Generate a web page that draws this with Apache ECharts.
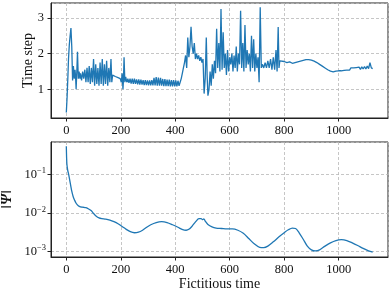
<!DOCTYPE html>
<html><head><meta charset="utf-8">
<script src="https://cdn.jsdelivr.net/npm/echarts@6/dist/echarts.min.js"></script>
<style>html,body{margin:0;padding:0;background:#fff}#c{width:390px;height:293px}</style>
</head><body><div id="c"></div>
<script>
// Top panel: time step vs fictitious time
const timeStep = [
[0,0.35],[3,0.8],[6,1.4],[8,1.85],[11,2.25],[14,2.5],[17,2.72],[20,2.2],[23,1.25],[26,1.65],[29,1.3],[32,1.55],[34,1.35],[36,1.0],[39,1.6],[41,2.05],[44,1.3],[47,1.5],[50,1.3],
[52,1.45],[56,1.25],[60,1.5],[64,1.3],[68,1.55],[72,1.2],[76,1.6],[80,1.2],[84,1.65],[88,1.15],[92,1.6],[96,1.2],[100,1.85],[104,1.1],[108,1.7],[112,1.15],[116,1.6],[120,1.1],[124,1.75],[128,1.15],[132,1.85],[136,1.1],[140,1.7],[144,1.15],[148,1.8],[152,1.1],[156,1.6],[160,1.2],[164,1.85],[167,1.2],[170,1.4],
[180,1.36],[190,1.33],[198,1.3],[202,1.2],[205,1.45],[208,1.0],[210,1.3],[212,1.9],[215,1.2],
[218,1.35],[222,1.2],[226,1.3],[230,1.18],[234,1.3],[238,1.16],[242,1.3],[246,1.15],[250,1.3],[254,1.15],[258,1.28],[262,1.14],[266,1.28],[270,1.13],[274,1.27],[278,1.13],[282,1.26],[286,1.12],[290,1.26],[294,1.12],[298,1.25],[302,1.11],[306,1.25],[310,1.11],[314,1.26],[318,1.11],[322,1.32],[326,1.11],[330,1.34],[334,1.1],[338,1.33],[342,1.1],[346,1.32],[350,1.1],[354,1.29],[358,1.09],[362,1.29],[366,1.09],[370,1.27],[374,1.09],[378,1.27],[382,1.08],[386,1.26],[390,1.08],[394,1.26],[398,1.08],[402,1.25],[406,1.08],[410,1.24],[414,1.1],[418,1.2],
[422,1.3],[426,1.45],[430,1.6],[434,1.75],[438,1.95],[442,1.6],[446,2.45],[450,1.9],[454,2.2],[458,2.75],[462,2.2],[466,2.0],[470,2.3],[474,1.85],[478,2.0],[482,1.85],[486,1.95],[490,1.8],[494,1.9],[498,1.75],[502,1.85],[506,0.88],[510,1.3],[514,2.45],[517,1.4],[520,0.82],[524,1.0],[528,1.5],[532,1.1],[536,1.7],[540,1.3],[544,1.8],[548,1.45],[552,2.7],[556,1.6],[560,2.3],[564,1.5],[568,3.25],[572,1.55],[576,2.6],[580,1.6],[584,2.0],[588,1.4],[592,2.1],[596,1.5],[600,1.9],[604,1.7],[608,2.0],[612,1.5],[616,1.95],[620,1.6],[624,2.2],[628,1.5],[632,2.0],[636,1.7],[640,3.2],[644,1.6],[648,2.3],[652,1.5],[656,2.8],[660,1.6],[664,2.1],[668,1.7],[672,2.0],[676,1.5],[680,2.5],[684,1.6],[688,2.4],[692,1.5],[696,2.0],[700,1.6],[704,1.9],[708,1.2],[712,3.3],[716,1.6],
[720,1.7],[725,1.6],[730,1.75],[735,1.6],[740,1.8],[745,1.6],[750,1.85],[755,1.55],[760,1.9],[765,1.55],[770,2.1],[774,1.5],[778,2.75],[781,1.6],[784,1.8],
[790,1.76],[800,1.78],[810,1.75],[820,1.77],[830,1.73],[840,1.75],[850,1.77],[860,1.79],[870,1.81],[880,1.83],[890,1.83],[900,1.82],[910,1.79],[920,1.75],[930,1.7],[940,1.65],[950,1.6],[960,1.55],[970,1.51],[980,1.49],[990,1.51],[995,1.54],[1000,1.52],
[1005,1.56],[1010,1.52],[1015,1.57],[1020,1.53],[1025,1.58],[1030,1.54],[1035,1.58],[1040,1.54],[1045,1.6],[1050,1.55],[1055,1.6],[1060,1.55],[1065,1.61],[1070,1.56],[1075,1.62],[1080,1.56],[1085,1.63],[1090,1.57],[1095,1.64],[1100,1.57],[1105,1.65],[1110,1.58],[1115,1.75],[1120,1.6],[1125,1.58]
];
// Bottom panel: residual norm (log scale)
const residualNorm = [
[0,0.54],[2,0.19],[5,0.13],[8,0.105],[12,0.075],[16,0.052],[20,0.037],[25,0.027],[30,0.022],[36,0.018],[44,0.0155],[52,0.0145],[62,0.0142],[72,0.0138],[82,0.0128],[92,0.0115],[100,0.0098],[110,0.0083],[120,0.0075],[130,0.0072],[145,0.007],[160,0.0066],[175,0.006],[190,0.0053],[205,0.0045],[220,0.0038],[235,0.0033],[250,0.0031],[265,0.0032],[280,0.0036],[295,0.0043],[310,0.005],[330,0.0057],[350,0.006],[370,0.0057],[390,0.005],[410,0.0043],[425,0.0038],[440,0.0036],[450,0.0038],[462,0.0046],[475,0.006],[487,0.0072],[495,0.0072],[500,0.0068],[505,0.0071],[510,0.0062],[520,0.0051],[535,0.0044],[550,0.0041],[570,0.004],[590,0.0039],[610,0.0039],[630,0.0036],[650,0.003],[670,0.0022],[690,0.0016],[710,0.0013],[725,0.00128],[740,0.0014],[760,0.0018],[780,0.0024],[800,0.0031],[815,0.0037],[830,0.0041],[842,0.004],[855,0.0031],[870,0.0021],[885,0.0014],[900,0.00112],[915,0.00105],[930,0.00112],[950,0.0014],[970,0.0017],[990,0.00195],[1010,0.00205],[1030,0.00195],[1050,0.0017],[1070,0.00145],[1090,0.00122],[1110,0.00105],[1125,0.00098]
];
const xName = 'Fictitious time';
const topYName = 'Time step';
const xRange = [-56.25, 1181.25];
const topYRange = [0.196, 3.42];
const logYRange = [7.3e-4, 0.695];

const FONT = 'Liberation Serif';
const LINE = '#1f77b4';
const gridLine = {show:true, lineStyle:{color:'#b8b8b8', type:[3,2], width:0.8}};
const axLine = {show:true, onZero:false, lineStyle:{color:'#222', width:1}};
const tick = {show:true, length:3.5, lineStyle:{color:'#222', width:1}};
const lbl = {fontFamily:FONT, fontSize:12.5, color:'#111'};

function xAxisCfg(g, withName){
  const a = {gridIndex:g, type:'value', min:xRange[0], max:xRange[1], splitNumber:6,
    axisLine:axLine, axisTick:tick, splitLine:gridLine,
    axisLabel:Object.assign({margin:6, showMinLabel:false, showMaxLabel:false,
      formatter:function(v){ return String(Math.round(v)); }}, lbl)};
  if (withName){ a.name = xName; a.nameLocation='middle'; a.nameGap=20;
    a.nameTextStyle={fontFamily:FONT, fontSize:14, color:'#111'}; }
  return a;
}
const chart = echarts.init(document.getElementById('c'), null, {renderer:'canvas'});
chart.setOption({
  animation:false,
  grid:[{left:51, top:3, width:337, height:115, show:true, borderColor:'#222', borderWidth:1, outerBoundsMode:'none', containLabel:false},
        {left:51, top:142, width:337, height:115, show:true, borderColor:'#222', borderWidth:1, outerBoundsMode:'none', containLabel:false}],
  xAxis:[xAxisCfg(0,false), xAxisCfg(1,true)],
  yAxis:[
    {gridIndex:0, type:'value', min:topYRange[0], max:topYRange[1], splitNumber:3,
     name:topYName, nameLocation:'middle', nameGap:16, nameMoveOverlap:false,
     nameTextStyle:{fontFamily:FONT, fontSize:14, color:'#111'},
     axisLine:axLine, axisTick:tick, splitLine:gridLine,
     axisLabel:Object.assign({margin:7, showMinLabel:false, showMaxLabel:false}, lbl)},
    {gridIndex:1, type:'log', logBase:10, min:logYRange[0], max:logYRange[1],
     name:'{n|‖}{p|Ψ}{n|‖}', nameLocation:'middle', nameGap:37, nameMoveOverlap:false,
     nameTextStyle:{fontFamily:FONT, fontSize:14, color:'#111',
       rich:{n:{fontFamily:FONT, fontSize:14, color:'#111'}, p:{fontFamily:FONT, fontSize:14, fontWeight:'bold', fontStyle:'italic', color:'#111'}}},
     axisLine:axLine, axisTick:tick, splitLine:gridLine,
     axisLabel:Object.assign({margin:5, showMinLabel:false, showMaxLabel:false,
       formatter:function(v){ const e=Math.round(Math.log10(v)); return '{b|10}{s|'+String(e).replace('-','−')+'}'; },
       rich:{b:{fontFamily:FONT, fontSize:12.5, color:'#111'}, s:{fontFamily:FONT, fontSize:8.5, color:'#111', padding:[0,0,7,0]}}}, lbl)}
  ],
  series:[
    {type:'line', xAxisIndex:0, yAxisIndex:0, data:timeStep, showSymbol:false, symbol:'none',
     lineStyle:{color:LINE, width:1.3}, itemStyle:{color:LINE}},
    {type:'line', xAxisIndex:1, yAxisIndex:1, data:residualNorm, showSymbol:false, symbol:'none', smooth:0.3,
     lineStyle:{color:LINE, width:1.3}, itemStyle:{color:LINE}}
  ]
});
</script></body></html>
